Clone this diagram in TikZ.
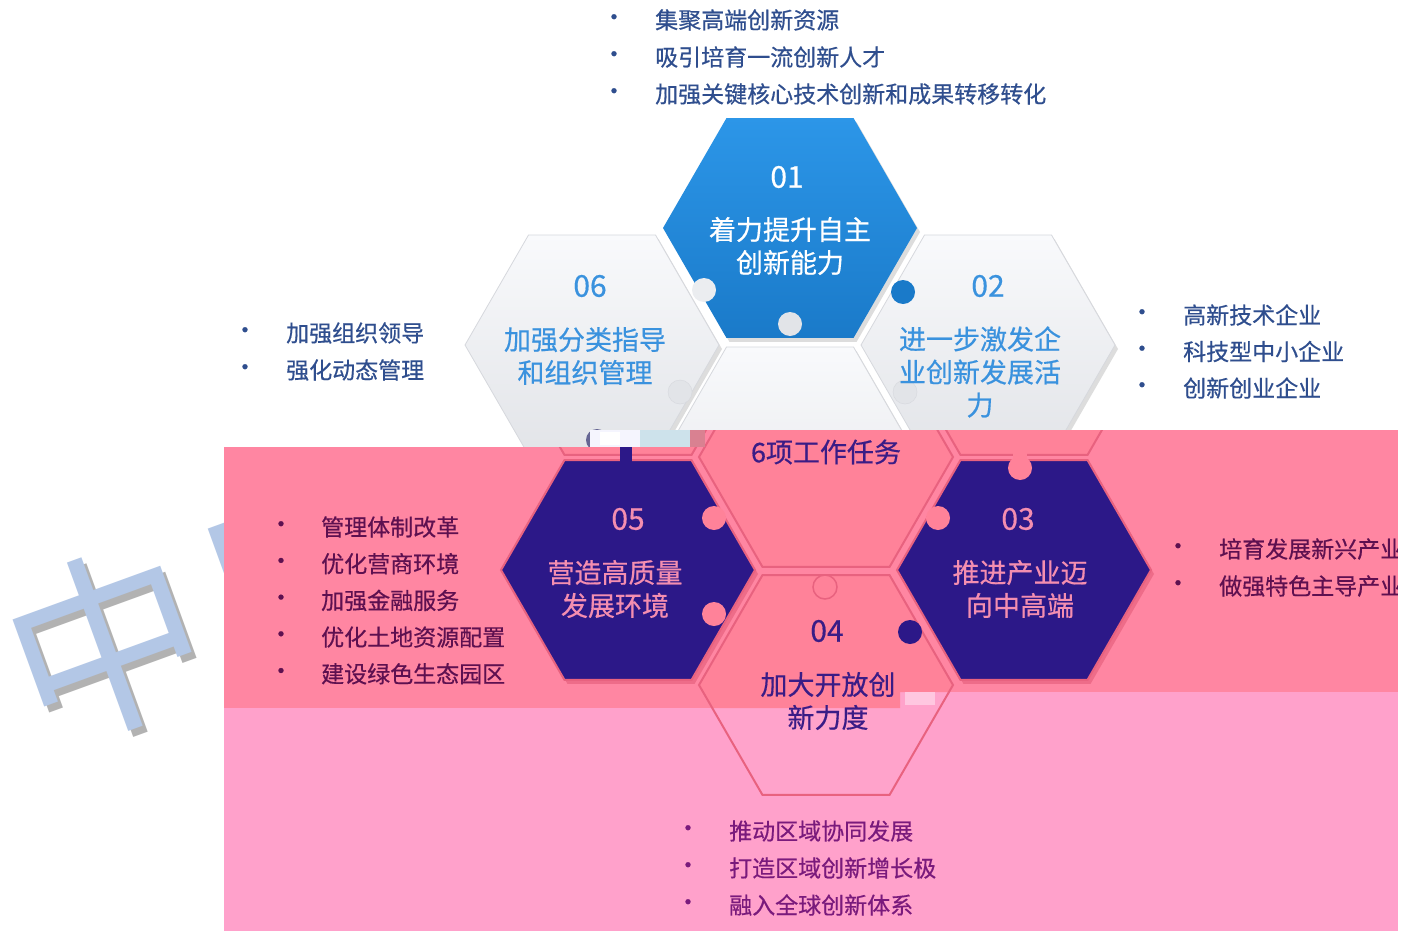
\documentclass[tikz,border=0pt]{standalone}
\usepackage{fontspec}
\setmainfont{Noto Sans CJK SC}[FakeBold=0.5]
\newfontfamily\wmfont{Noto Sans CJK SC}
\usetikzlibrary{shapes.geometric,shadows}
\definecolor{bgDark}{HTML}{FF86A2}
\definecolor{bgLight}{HTML}{FFA1CB}
\definecolor{hexTop}{HTML}{F9FAFC}
\definecolor{hexBot}{HTML}{E2E4E8}
\definecolor{hexEdge}{HTML}{D6D8DD}
\definecolor{blueHexTop}{HTML}{2C96E8}
\definecolor{blueHexBot}{HTML}{1A7AC9}
\definecolor{listBlue}{HTML}{2F4E8E}
\definecolor{titleBlue}{HTML}{3A92DE}
\definecolor{purpleHex}{HTML}{2C1888}
\definecolor{pinkHex}{HTML}{FF8299}
\definecolor{pinkEdge}{HTML}{E8627F}
\definecolor{pinkText}{HTML}{F48EB0}
\definecolor{darkPurpleText}{HTML}{3A1C86}
\definecolor{maroonText}{HTML}{5E1050}
\definecolor{plumText}{HTML}{7A1A7C}
\definecolor{wmBlue}{HTML}{B3C7E6}
\definecolor{lightHex}{HTML}{FFA3CB}
\begin{document}
\begin{tikzpicture}[x=1pt,y=-1pt,
  hexs/.style={regular polygon, regular polygon sides=6, minimum size=254pt, inner sep=0pt, outer sep=0pt},
  grayhex/.style={hexs, top color=hexTop, bottom color=hexBot, draw=hexEdge, line width=0.8pt,
    drop shadow={opacity=0.22, shadow xshift=3pt, shadow yshift=-4pt, fill=black!60}},
  bluehex/.style={hexs, top color=blueHexTop, bottom color=blueHexBot,
    drop shadow={opacity=0.22, shadow xshift=3pt, shadow yshift=-4pt, fill=black!60}},
  pinkhex/.style={hexs, fill=pinkHex, draw=pinkEdge, line width=2pt},
  purplehex/.style={hexs, fill=purpleHex, draw=pinkEdge, line width=2pt,
    drop shadow={opacity=0.7, shadow xshift=3pt, shadow yshift=-4pt, fill=pinkEdge}},
  lighthex/.style={hexs, fill=lightHex, draw=pinkEdge, line width=2pt},
  tab/.style={circle, inner sep=0pt, minimum size=24pt},
  lst/.style={anchor=west, inner sep=0pt, font=\fontsize{23}{23}\selectfont},
  bul/.style={inner sep=0pt, font=\fontsize{24}{24}\selectfont},
  ttl/.style={align=center, inner sep=0pt, font=\fontsize{27}{33}\selectfont},
  numf/.style={inner sep=0pt, font=\fontsize{30}{30}\selectfont},
  wm/.style={rotate=20, font=\wmfont\fontsize{195}{195}\selectfont, inner sep=0pt}
]
\useasboundingbox (0,0) rectangle (1402,931);
\fill[white] (0,0) rectangle (1402,931);

% watermark
\node[wm, text=black!30] (wms1) at (111,650) {中};
\node[wm, text=wmBlue] (wm1) at (106,644) {中};
\node[wm, text=black!30] (wms2) at (318,588) {国};
\node[wm, text=wmBlue] (wm2) at (313,582) {国};

% white-world hexagons
\node[grayhex] (w06) at (592,345) {};
\node[grayhex] (w02) at (988,345) {};
\node[grayhex] (wc) at (790,457) {};
\node[bluehex] (w01) at (790,228) {};
% white-world tabs
\node[tab, fill=blueHexBot] (t1) at (903,292) {};
\node[tab, fill=hexBot] (t2) at (790,324) {};
\node[tab, fill=hexBot!60!hexTop] (t3) at (704,290) {};
\node[tab, fill=hexBot, draw=hexEdge] (t4) at (680,392) {};
\node[tab, fill=hexBot, draw=hexEdge] (t5) at (905,392) {};
\node[tab, fill=black!70!blue!60, minimum size=22pt] (t6) at (597,440) {};

% light pink zone
\fill[bgLight] (224,692) rectangle (1398,931);
\begin{scope}
  \clip (224,692) rectangle (1398,931);
  \node[lighthex] (l04) at (826,685) {};
\end{scope}
% dark pink zone
\fill[bgDark] (224,447) rectangle (900,708);
\fill[bgDark] (700,430) rectangle (1398,692);
\begin{scope}
  \clip (224,447) rectangle (900,708) (700,430) rectangle (1398,692);
  \node[pinkhex] (p06) at (628,345) {};
  \node[pinkhex] (p02) at (1024,345) {};
  \node[pinkhex] (pc) at (826,457) {};
  \node[pinkhex] (p04) at (826,685) {};
  \node[purplehex] (p05) at (628,570) {};
  \node[purplehex] (p03) at (1024,570) {};
  \node[tab, fill=pinkHex] (t7) at (1020,468) {};
  \fill[pinkHex] (1013,452) rectangle (1027,468);
  \node[tab, fill=pinkHex] (t8) at (938,518) {};
  \node[tab, fill=pinkHex] (t9) at (714,518) {};
  \node[tab, fill=pinkHex] (t10) at (714,614) {};
  \node[tab, fill=pinkHex, draw=pinkEdge, line width=1.5pt] (t11) at (825,587) {};
  \node[tab, fill=purpleHex] (t12) at (910,632) {};
  \fill[purpleHex] (620,447) rectangle (632,462);
\end{scope}
% glitch blocks
\fill[black!8!blue!4] (590,430) rectangle (640,447);
\fill[white] (600,432) rectangle (620,445);
\fill[gray!55!cyan!30] (640,430) rectangle (690,447);
\fill[pinkHex!70!gray] (690,430) rectangle (705,447);
\fill[bgLight!60!white] (905,692) rectangle (935,705);

% top list
\foreach \t [count=\i] in {集聚高端创新资源,吸引培育一流创新人才,加强关键核心技术创新和成果转移转化}{
  \node[bul, text=listBlue] (ba\i) at (614,{20+37*(\i-1)}) {•};
  \node[lst, text=listBlue] (la\i) at (655,{20+37*(\i-1)}) {\t};
}
% left (06) list
\foreach \t [count=\i] in {加强组织领导,强化动态管理}{
  \node[bul, text=listBlue] (bb\i) at (245,{333+37*(\i-1)}) {•};
  \node[lst, text=listBlue] (lb\i) at (286,{333+37*(\i-1)}) {\t};
}
% right (02) list
\foreach \t [count=\i] in {高新技术企业,科技型中小企业,创新创业企业}{
  \node[bul, text=listBlue] (bc\i) at (1142,{315+36.5*(\i-1)}) {•};
  \node[lst, text=listBlue] (lc\i) at (1183,{315+36.5*(\i-1)}) {\t};
}
% left (05) list
\foreach \t [count=\i] in {管理体制改革,优化营商环境,加强金融服务,优化土地资源配置,建设绿色生态园区}{
  \node[bul, text=maroonText] (bd\i) at (281,{527+36.7*(\i-1)}) {•};
  \node[lst, text=maroonText] (ld\i) at (321,{527+36.7*(\i-1)}) {\t};
}
% right (03) list
\foreach \t [count=\i] in {培育发展新兴产业,做强特色主导产业}{
  \node[bul, text=maroonText] (be\i) at (1178,{549+37*(\i-1)}) {•};
  \node[lst, text=maroonText] (le\i) at (1219,{549+37*(\i-1)}) {\t};
}
% bottom (04) list
\foreach \t [count=\i] in {推动区域协同发展,打造区域创新增长极,融入全球创新体系}{
  \node[bul, text=plumText] (bf\i) at (688,{831+37*(\i-1)}) {•};
  \node[lst, text=plumText] (lf\i) at (729,{831+37*(\i-1)}) {\t};
}

% hex labels
\node[numf, text=white] (n01) at (787,177) {01};
\node[ttl, text=white] (x01) at (790,246) {着力提升自主\\创新能力};
\node[numf, text=titleBlue] (n06) at (590,286) {06};
\node[ttl, text=titleBlue] (x06) at (585,356) {加强分类指导\\和组织管理};
\node[numf, text=titleBlue] (n02) at (988,286) {02};
\node[ttl, text=titleBlue] (x02) at (980,372) {进一步激发企\\业创新发展活\\力};
\node[ttl, text=darkPurpleText] (xc) at (826,452) {6项工作任务};
\node[numf, text=pinkText] (n05) at (628,519) {05};
\node[ttl, text=pinkText] (x05) at (615,589) {营造高质量\\发展环境};
\node[numf, text=pinkText] (n03) at (1018,519) {03};
\node[ttl, text=pinkText] (x03) at (1020,589) {推进产业迈\\向中高端};
\node[numf, text=darkPurpleText] (n04) at (827,631) {04};
\node[ttl, text=darkPurpleText] (x04) at (828,701) {加大开放创\\新力度};

\fill[white] (1398,0) rectangle (1402,931);
\end{tikzpicture}
\end{document}
